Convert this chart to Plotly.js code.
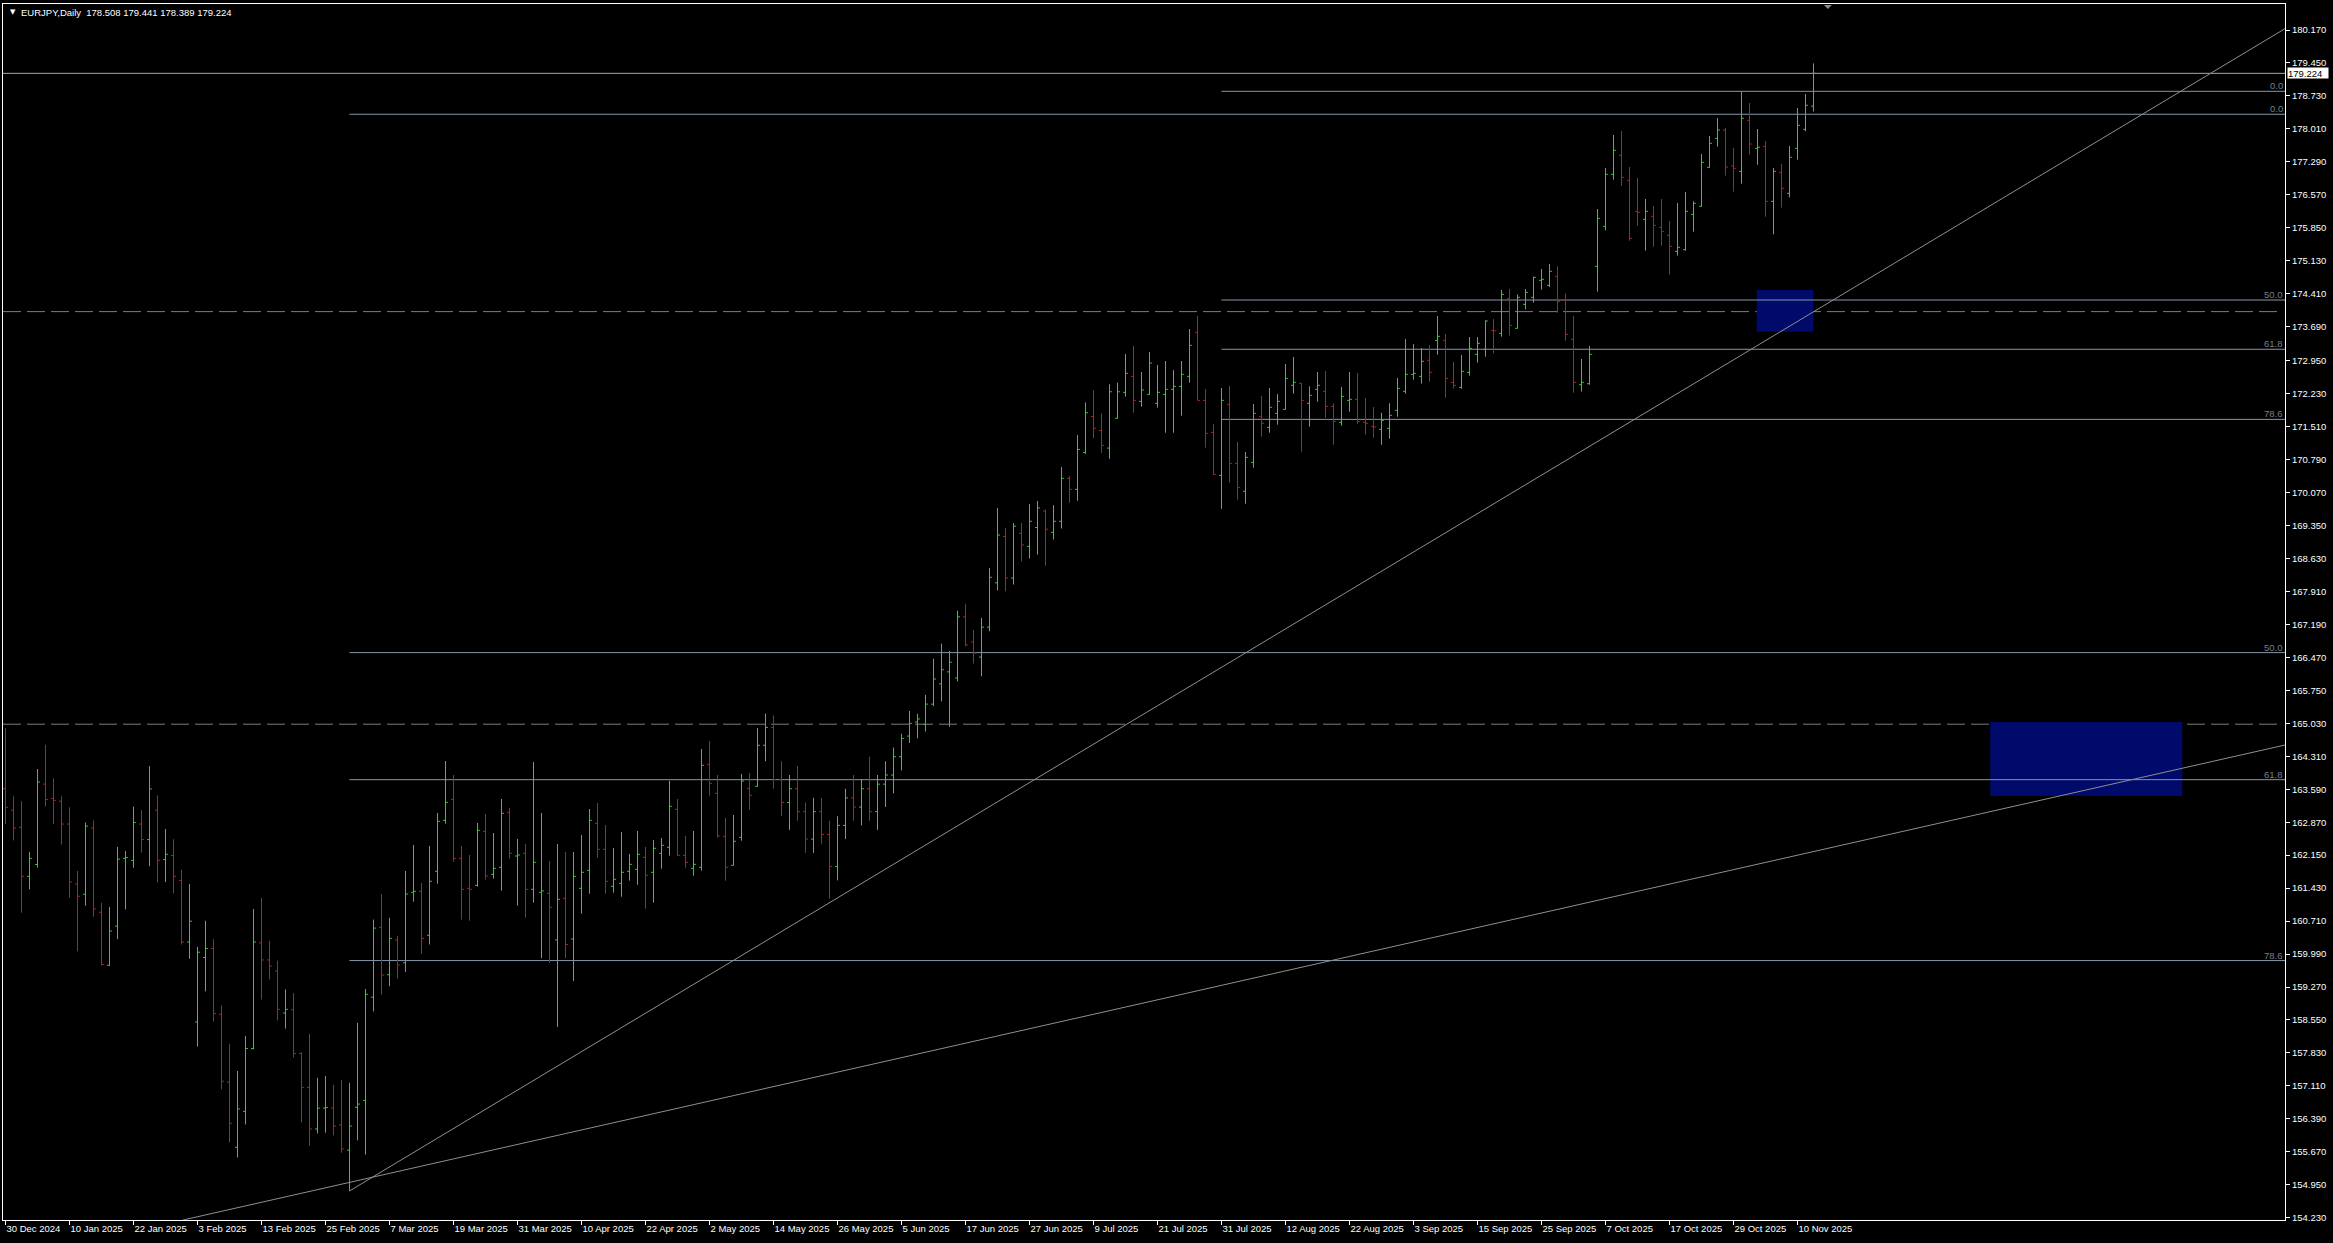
<!DOCTYPE html>
<html>
<head>
<meta charset="utf-8">
<script src="https://cdn.plot.ly/plotly-3.0.1.min.js"></script>
<style>
  html, body { margin: 0; padding: 0; background: #000; }
  #chart { width: 2333px; height: 1243px; }
</style>
</head>
<body>
<div id="chart"></div>
<script>
// EURJPY daily bars, 30 Dec 2024 - 12 Nov 2025
const symbol = 'EURJPY';
const period = 'Daily';
const firstDay = '2024-12-30';
const closedDays = ['2025-01-01'];

const open = [
  163.600,163.132,162.757,161.688,161.946,163.702,163.390,163.328,162.829,161.518,
  161.296,162.740,160.903,159.745,160.600,162.080,162.035,162.829,162.490,163.132,
  162.053,162.142,161.599,160.253,158.506,159.914,160.110,158.675,157.195,155.769,
  156.554,157.926,160.235,159.861,159.620,158.702,158.773,157.819,157.079,156.170,
  156.625,156.625,156.259,155.707,156.643,156.794,159.049,160.574,159.540,160.300,
  159.800,161.338,161.360,160.400,161.797,162.910,163.369,162.080,161.425,161.491,
  162.670,161.731,161.884,163.085,162.131,162.190,161.403,161.338,161.316,160.300,
  161.207,160.319,161.425,161.818,162.845,162.277,161.469,161.534,161.797,161.840,
  162.102,161.775,162.190,162.321,163.150,162.146,161.862,161.884,164.133,163.500,
  162.561,161.928,162.539,163.609,163.653,164.550,164.940,163.800,163.300,163.600,
  163.100,162.500,163.100,162.600,161.900,162.800,163.400,163.200,163.600,163.100,
  163.700,163.900,164.300,164.750,165.058,165.005,165.448,165.891,166.153,166.018,
  167.354,166.806,166.476,167.129,168.097,169.110,168.202,169.178,168.893,169.305,
  169.666,169.200,169.440,170.379,170.138,170.941,171.729,171.422,171.039,171.692,
  172.257,172.606,172.060,172.213,172.017,172.213,172.322,172.388,172.606,173.567,
  172.082,171.383,170.444,171.995,170.706,170.095,170.728,171.725,171.492,171.798,
  171.885,172.410,172.454,172.017,172.322,172.279,171.951,171.602,172.082,172.104,
  171.602,171.514,171.449,171.471,171.864,172.279,172.650,172.606,172.956,173.392,
  173.392,172.475,172.366,172.693,173.087,173.196,173.611,173.546,174.303,173.655,
  174.179,174.332,174.703,174.594,174.790,174.266,173.415,172.424,172.446,175.009,
  175.882,177.018,177.433,176.887,176.210,176.035,176.101,175.860,175.686,175.336,
  175.373,176.144,176.319,177.171,177.804,177.986,177.200,177.083,178.197,177.586,
  177.629,176.428,177.062,176.603,177.586,178.001,178.508
];
const high = [
  164.923,163.435,163.328,162.223,164.032,164.558,163.827,163.435,163.194,161.804,
  162.864,162.909,161.108,161.019,162.330,162.240,163.212,163.132,164.094,163.453,
  162.722,162.499,161.830,161.518,160.146,160.716,160.315,158.871,158.024,157.436,
  158.203,160.975,161.215,160.279,159.843,159.219,159.138,157.846,158.247,157.284,
  157.329,157.133,157.240,157.178,158.488,159.228,160.743,161.296,160.779,160.384,
  161.804,162.372,161.542,162.350,163.070,164.206,163.900,162.350,162.153,162.852,
  163.049,162.634,163.376,163.180,162.503,162.393,164.184,163.070,162.022,162.393,
  162.219,162.219,162.590,163.158,163.289,162.808,162.306,162.655,162.175,162.677,
  162.328,162.481,162.524,163.776,163.376,162.568,162.677,164.468,164.643,163.900,
  162.961,163.027,163.922,163.944,164.927,165.240,165.200,164.200,163.900,164.100,
  163.300,163.400,163.400,162.900,163.000,163.600,163.900,163.800,164.300,163.900,
  164.200,164.500,164.800,165.298,165.238,165.651,166.439,166.769,166.611,167.489,
  167.639,167.069,167.332,168.420,169.733,169.298,169.403,169.403,169.816,169.883,
  169.696,169.793,170.626,170.431,171.324,172.037,172.300,171.797,172.435,172.472,
  173.094,173.269,172.701,173.138,172.854,172.941,172.744,172.941,173.640,173.924,
  172.330,171.565,172.351,172.395,171.172,170.954,172.002,172.177,172.351,172.220,
  172.876,173.028,172.461,172.388,172.701,172.723,172.017,172.373,172.701,172.679,
  172.133,171.936,171.813,172.017,172.570,173.421,173.312,173.225,173.290,173.924,
  173.531,172.919,173.072,173.465,173.465,173.830,173.859,174.492,174.514,174.397,
  174.514,174.783,174.950,175.060,175.009,174.419,173.924,172.985,173.269,176.261,
  177.156,177.877,177.964,177.178,176.938,176.479,176.326,176.479,175.999,176.392,
  176.632,176.428,177.462,177.855,178.248,178.030,177.593,178.831,178.576,178.008,
  177.746,177.156,177.244,177.637,178.467,178.772,179.441
];
const low = [
  162.829,162.472,160.894,161.403,161.875,163.212,162.829,162.383,161.224,160.048,
  161.046,160.805,159.745,159.727,160.315,160.966,161.875,162.205,161.911,161.554,
  161.563,161.313,160.199,159.887,157.971,159.174,158.515,157.035,155.876,155.546,
  156.268,157.908,158.996,159.433,158.541,158.363,157.730,156.313,155.805,156.072,
  156.090,156.028,155.653,154.816,155.921,155.609,158.737,159.103,159.290,159.450,
  159.600,161.134,160.000,160.200,161.527,162.838,162.008,160.741,160.719,161.462,
  161.615,161.636,161.374,162.073,161.047,160.785,161.112,159.900,159.800,158.400,
  159.900,159.400,160.872,161.309,162.095,161.309,161.331,161.243,161.593,161.505,
  160.981,161.112,161.855,162.139,162.139,161.877,161.702,161.811,163.449,162.532,
  161.593,161.920,162.466,163.143,163.646,164.200,163.600,163.000,162.700,162.900,
  162.200,162.200,162.400,161.200,161.600,162.500,162.900,162.800,162.900,162.700,
  163.200,163.500,164.000,164.600,164.700,164.850,165.403,165.508,164.953,165.943,
  166.709,166.334,166.056,167.039,167.932,167.910,168.060,168.562,168.630,168.713,
  168.472,169.043,169.283,169.846,169.891,170.911,171.257,170.934,170.806,171.684,
  172.162,171.813,171.944,172.206,171.922,171.376,171.376,171.747,172.468,172.082,
  171.048,170.451,169.716,170.284,169.913,169.825,170.612,171.289,171.376,171.551,
  171.878,172.228,170.961,171.507,172.053,171.703,171.114,171.529,171.835,171.572,
  171.332,171.267,171.114,171.245,171.725,172.228,172.533,172.446,172.490,173.079,
  172.140,172.337,172.337,172.621,172.905,173.036,173.109,173.473,173.495,173.647,
  174.070,174.215,174.499,174.557,173.997,173.385,172.250,172.272,172.424,174.456,
  175.795,176.901,176.770,175.569,175.897,175.351,175.438,175.460,174.827,175.242,
  175.351,175.766,176.312,177.164,177.622,176.989,176.639,176.814,177.447,177.229,
  176.093,175.708,176.290,176.516,177.338,177.957,178.389
];
const close = [
  163.194,162.740,161.688,162.080,163.747,163.364,163.346,162.829,161.563,161.251,
  162.784,160.975,159.762,160.493,162.062,162.098,162.864,162.490,163.595,162.035,
  162.169,161.688,160.253,160.707,160.030,160.110,158.693,157.213,156.295,156.607,
  157.926,160.253,159.861,159.727,158.782,158.782,157.819,157.079,156.170,156.625,
  156.640,156.233,155.734,156.233,156.714,159.112,160.556,159.531,160.333,159.750,
  161.301,161.360,160.333,161.578,162.888,163.303,162.080,161.403,161.403,162.692,
  161.695,161.862,163.063,162.190,162.153,161.403,161.993,161.370,161.010,161.185,
  160.200,161.687,161.775,162.910,162.277,161.578,161.622,161.775,161.949,162.168,
  161.709,162.299,162.364,163.216,162.146,161.993,161.949,164.111,163.718,162.568,
  161.884,162.452,163.769,163.456,164.548,164.940,163.800,163.300,163.600,163.100,
  162.500,163.100,162.600,161.900,162.800,163.400,163.200,163.600,163.100,163.700,
  163.900,164.300,164.700,165.028,165.125,165.448,165.996,166.198,166.364,167.354,
  166.739,166.566,167.129,168.217,169.140,168.202,169.335,168.923,169.440,169.733,
  169.268,169.440,170.379,170.138,171.009,171.812,171.474,171.099,172.270,172.270,
  172.672,172.082,172.308,172.897,172.257,172.322,172.388,172.650,173.283,172.082,
  171.361,170.466,172.082,170.706,170.182,170.837,171.798,171.580,171.929,172.060,
  172.562,172.475,172.082,172.191,172.410,171.951,171.623,172.169,172.104,171.616,
  171.580,171.500,171.645,171.754,172.344,172.650,172.672,172.934,172.693,173.480,
  172.562,172.410,172.715,173.218,173.327,173.815,173.600,174.397,173.720,174.332,
  174.441,174.769,174.725,174.900,174.244,173.524,172.475,172.475,173.087,176.057,
  177.018,177.542,176.952,175.620,176.188,176.210,175.904,175.773,175.446,175.424,
  176.210,176.385,177.280,177.695,177.986,177.178,177.149,178.241,177.680,177.610,
  176.428,177.083,176.712,177.389,178.088,178.525,179.224
];

// Date axis labels (every 8th session)
const dateLabels = [
  '30 Dec 2024','10 Jan 2025','22 Jan 2025','3 Feb 2025','13 Feb 2025','25 Feb 2025',
  '7 Mar 2025','19 Mar 2025','31 Mar 2025','10 Apr 2025','22 Apr 2025','2 May 2025',
  '14 May 2025','26 May 2025','5 Jun 2025','17 Jun 2025','27 Jun 2025','9 Jul 2025',
  '21 Jul 2025','31 Jul 2025','12 Aug 2025','22 Aug 2025','3 Sep 2025','15 Sep 2025',
  '25 Sep 2025','7 Oct 2025','17 Oct 2025','29 Oct 2025','10 Nov 2025'
];
// Price scale labels
const priceLabels = [
  180.170,179.450,178.730,178.010,177.290,176.570,175.850,175.130,174.410,173.690,
  172.950,172.230,171.510,170.790,170.070,169.350,168.630,167.910,167.190,166.470,
  165.750,165.030,164.310,163.590,162.870,162.150,161.430,160.710,159.990,159.270,
  158.550,157.830,157.110,156.390,155.670,154.950,154.230
];

// Drawing objects
const fibLevels = [0, 50, 61.8, 78.6];
const fibA = { startBar: 152, lowBar: 152, highBar: 217 };   // swing low 1 Aug -> high
const fibB = { startBar: 43, lowBar: 43, top: 178.33 };      // swing low 28 Feb
const dashedLevels = [174.02, 165.01];
const trendLines = [
  { x0: 43, y0: 154.816, x1: 284.94, y1: 180.20 },
  { x0: 22.15, y0: 154.18, x1: 284.94, y1: 164.555 }
];
const zones = [
  { x0: 218.9, x1: 226.0, y0: 173.582, y1: 174.492 },
  { x0: 248.1, x1: 272.1, y0: 163.44, y1: 165.06 }
];
const shiftMarkerBar = 227.8;   // chart-shift handle on the top edge

// ---- trading calendar ----
const MON = ['Jan','Feb','Mar','Apr','May','Jun','Jul','Aug','Sep','Oct','Nov','Dec'];
function tradingDays(start, n) {
  const out = [];
  const d = new Date(start + 'T00:00:00Z');
  while (out.length < n) {
    const wd = d.getUTCDay();
    const iso = d.toISOString().slice(0, 10);
    if (wd !== 0 && wd !== 6 && !closedDays.includes(iso)) {
      out.push(d.getUTCDate() + ' ' + MON[d.getUTCMonth()] + ' ' + d.getUTCFullYear());
    }
    d.setUTCDate(d.getUTCDate() + 1);
  }
  return out;
}
const sessions = tradingDays(firstDay, close.length);
const idx = sessions.map((_, i) => i);
const tickvals = dateLabels.map(l => sessions.indexOf(l));

// ---- geometry of the plot area ----
const W = 2333, H = 1243;
const M = { l: 3, r: 48, t: 4, b: 23 };
const xRange = [-0.3125, 284.9375];
const yRange = [154.182, 180.738];
const plotW = W - M.l - M.r, plotH = H - M.t - M.b;
const px = x => (x - M.l) / plotW;
const py = y => 1 - (y - M.t) / plotH;
const barPx = i => M.l + (i - xRange[0]) / (xRange[1] - xRange[0]) * plotW;

const FONT = 'Liberation Sans, Arial, sans-serif';
const fibLineColor = '#8796A8';
const fibTextColor = '#6E8096';

const shapes = [];
const annotations = [];

zones.forEach(z => shapes.push({
  type: 'rect', xref: 'x', yref: 'y', x0: z.x0, x1: z.x1, y0: z.y0, y1: z.y1,
  fillcolor: '#000A6A', line: { width: 0 }, layer: 'below'
}));

dashedLevels.forEach(v => shapes.push({
  type: 'line', xref: 'paper', yref: 'y', x0: 0, x1: 0.9975, y0: v, y1: v,
  line: { color: '#7C7C7C', width: 1, dash: '18px,6px' }, layer: 'below'
}));

function addFib(startBar, top, bottom) {
  fibLevels.forEach(p => {
    const v = top - (top - bottom) * p / 100;
    shapes.push({
      type: 'line', xref: 'x', yref: 'y', x0: startBar, x1: xRange[1], y0: v, y1: v,
      line: { color: fibLineColor, width: 1 }, layer: 'below'
    });
    annotations.push({
      xref: 'paper', yref: 'y', x: 1, y: v, xanchor: 'right', yanchor: 'bottom',
      xshift: -1, yshift: -1, text: p.toFixed(1), showarrow: false,
      font: { family: FONT, size: 9.5, color: fibTextColor }, borderpad: 0
    });
  });
}
addFib(fibA.startBar, high[fibA.highBar], low[fibA.lowBar]);
addFib(fibB.startBar, fibB.top, low[fibB.lowBar]);

trendLines.forEach(t => shapes.push({
  type: 'line', xref: 'x', yref: 'y', x0: t.x0, y0: t.y0, x1: t.x1, y1: t.y1,
  line: { color: '#8F8F8F', width: 1 }, layer: 'below'
}));

// bid line
const last = close.length - 1;
shapes.push({
  type: 'line', xref: 'paper', yref: 'y', x0: 0, x1: 1, y0: close[last], y1: close[last],
  line: { color: '#A8A8A8', width: 1 }, layer: 'below'
});

// chart-shift handle: small grey triangle hanging from the top edge
const sx = barPx(shiftMarkerBar);
shapes.push({
  type: 'path', xref: 'paper', yref: 'paper',
  path: 'M' + px(sx - 4) + ',' + py(5) + ' L' + px(sx + 4) + ',' + py(5) +
        ' L' + px(sx) + ',' + py(9) + ' Z',
  fillcolor: '#8A8A8A', line: { width: 0 }
});

// bid price tag on the scale
annotations.push({
  xref: 'paper', yref: 'y', x: 1, y: close[last], xanchor: 'left', yanchor: 'middle',
  xshift: 2, text: close[last].toFixed(3), showarrow: false, bgcolor: '#FFFFFF',
  font: { family: FONT, size: 9.5, color: '#000000' }, borderpad: 0, width: 40, height: 10, align: 'left'
});

// header
annotations.push({
  xref: 'paper', yref: 'paper', x: px(8), y: py(12.5), xanchor: 'left', yanchor: 'middle',
  text: '\u25BC', showarrow: false, font: { family: 'DejaVu Sans', size: 7, color: '#FFFFFF' }
});
annotations.push({
  xref: 'paper', yref: 'paper', x: px(19), y: py(12.5), xanchor: 'left', yanchor: 'middle',
  text: symbol + ',' + period + '\u00a0\u00a0' +
        [open[last], high[last], low[last], close[last]].map(v => v.toFixed(3)).join(' '),
  showarrow: false, font: { family: FONT, size: 9.5, color: '#FFFFFF' }
});

const trace = {
  type: 'ohlc', x: idx, open: open, high: high, low: low, close: close,
  text: sessions, hoverinfo: 'text',
  increasing: { line: { color: '#32CD32', width: 1 } },
  decreasing: { line: { color: '#B22222', width: 1 } },
  tickwidth: 0.3
};

const layout = {
  width: W, height: H,
  margin: M,
  paper_bgcolor: '#000000', plot_bgcolor: '#000000',
  showlegend: false,
  font: { family: FONT, size: 9.5, color: '#FFFFFF' },
  xaxis: {
    type: 'linear', range: xRange, fixedrange: true,
    rangeslider: { visible: false },
    showgrid: false, zeroline: false,
    showline: true, linecolor: '#FFFFFF', linewidth: 1, mirror: true,
    ticks: 'outside', ticklen: 4, tickcolor: '#FFFFFF', tickwidth: 1,
    tickvals: tickvals, ticktext: dateLabels,
    ticklabelposition: 'outside right',
    tickfont: { family: FONT, size: 9.5, color: '#FFFFFF' }
  },
  yaxis: {
    range: yRange, side: 'right', fixedrange: true,
    showgrid: false, zeroline: false,
    showline: true, linecolor: '#FFFFFF', linewidth: 1, mirror: true,
    ticks: 'outside', ticklen: 4, tickcolor: '#FFFFFF', tickwidth: 1,
    tickvals: priceLabels, ticktext: priceLabels.map(v => v.toFixed(3)),
    tickfont: { family: FONT, size: 9.5, color: '#FFFFFF' }
  },
  shapes: shapes,
  annotations: annotations
};

Plotly.newPlot('chart', [trace], layout, { staticPlot: true, displayModeBar: false });
</script>
</body>
</html>
